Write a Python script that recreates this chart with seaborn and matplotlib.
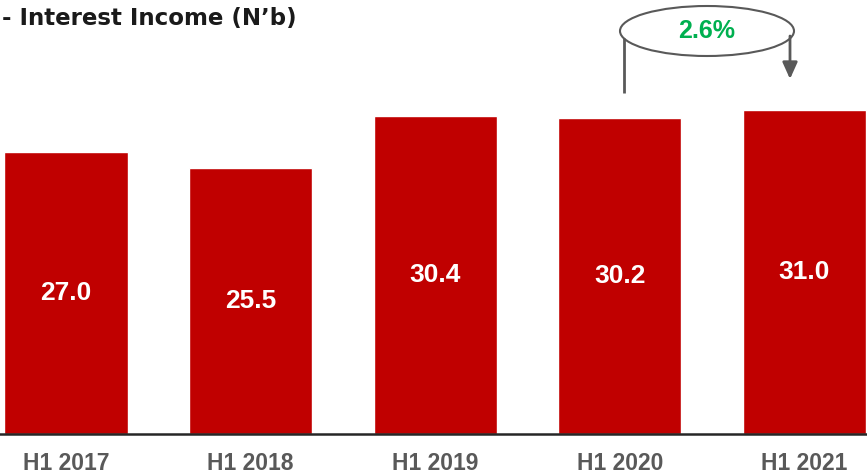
import matplotlib
matplotlib.use("Agg")
import matplotlib.pyplot as plt
from matplotlib.patches import Ellipse
import seaborn as sns
import pandas as pd

categories = ["H1 2017", "H1 2018", "H1 2019", "H1 2020", "H1 2021"]
values = [27.0, 25.5, 30.4, 30.2, 31.0]
value_labels = ["27.0", "25.5", "30.4", "30.2", "31.0"]
title = "- Interest Income (N\u2019b)"
growth_label = "2.6%"

df = pd.DataFrame({"period": categories, "value": values})

sns.set_style("white")
plt.rcParams["font.family"] = ["Liberation Sans", "DejaVu Sans"]

fig = plt.figure(figsize=(8.67, 4.76), dpi=100)
ax = fig.add_axes([0, 42 / 476, 1, 434 / 476])

sns.barplot(data=df, x="period", y="value", color="#C00000", saturation=1,
            width=0.667, ax=ax)

ax.set_xlim(-66 / 184.6, (867 - 66) / 184.6)
ax.set_ylim(0, 434 / 10.45)

for s in ["top", "right", "left"]:
    ax.spines[s].set_visible(False)
ax.spines["bottom"].set_color("#262626")
ax.spines["bottom"].set_linewidth(1.8)
ax.set_yticks([])
ax.set_xlabel("")
ax.set_ylabel("")
ax.tick_params(axis="x", length=0, pad=13)
for lbl in ax.get_xticklabels():
    lbl.set_fontweight("bold")
    lbl.set_fontsize(16.5)
    lbl.set_color("#595959")

for i, (v, t) in enumerate(zip(values, value_labels)):
    ax.text(i, v / 2, t, ha="center", va="center", color="white",
            fontsize=19, fontweight="bold")

# growth annotation
def py(p):
    return (434 - p) / 10.45

def px(p):
    return (p - 66) / 184.6

ax.plot([px(624), px(624)], [py(93), py(38)], color="#595959", lw=2,
        clip_on=False, solid_capstyle="butt")
ax.annotate("", xy=(px(790), py(79)), xytext=(px(790), py(36)),
            arrowprops=dict(arrowstyle="-|>,head_width=0.45,head_length=1.0",
                            color="#595959", lw=2, shrinkA=0, shrinkB=0),
            annotation_clip=False)
ell = Ellipse((px(707), py(31)), width=px(794) - px(620), height=50 / 10.45,
              facecolor="white", edgecolor="#595959", lw=1.5, clip_on=False)
ax.add_patch(ell)
ax.text(px(707), py(31), growth_label, ha="center", va="center",
        color="#00B050", fontsize=18, fontweight="bold")

fig.text(0.002, 1 - 18 / 476, title, ha="left", va="center",
         fontsize=16.5, fontweight="bold", color="#1a1a1a",
         family=["DejaVu Sans"])

fig.savefig("out.png", dpi=100)
